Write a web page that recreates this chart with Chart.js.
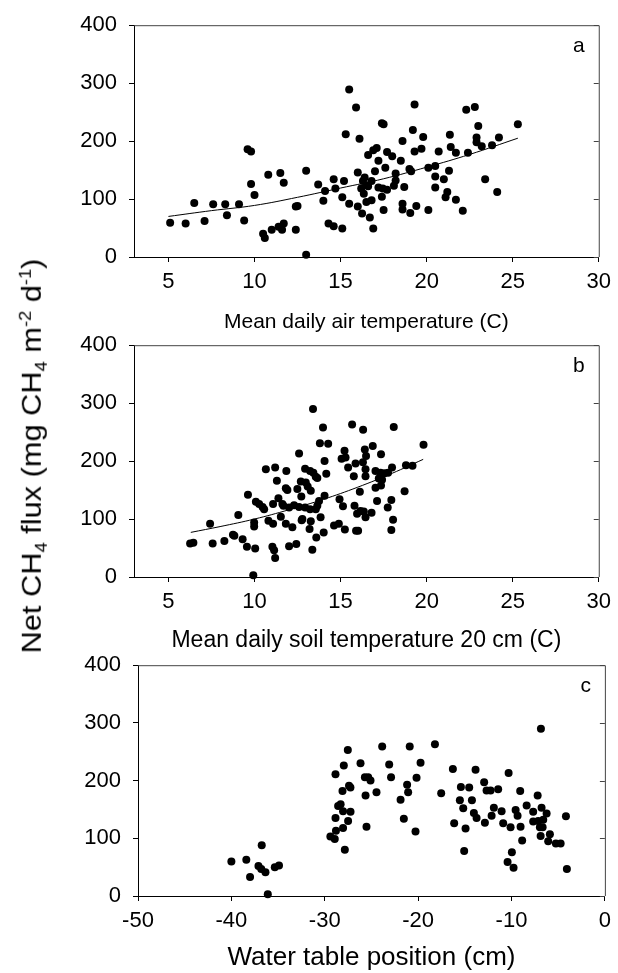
<!DOCTYPE html>
<html>
<head>
<meta charset="utf-8">
<script src="https://cdn.jsdelivr.net/npm/chart.js@4.4.0/dist/chart.umd.min.js"></script>
<style>
  body { margin: 0; background: #fff; width: 618px; height: 973px; position: relative; overflow: hidden;
         font-family: "Liberation Sans", Arial, sans-serif; }
  canvas { position: absolute; left: 0; }
  #ytitle { position: absolute; left: 34px; top: 456px; transform: translate(-50%, -50%) rotate(-90deg) scaleX(1.14);
            white-space: nowrap; font-size: 27px; color: #000; }
  #ytitle sub, #ytitle sup { font-size: 16px; }
</style>
</head>
<body>
<canvas id="chartA" width="618" height="336" style="top:0"></canvas>
<canvas id="chartB" width="618" height="334" style="top:320px"></canvas>
<canvas id="chartC" width="618" height="333" style="top:640px"></canvas>
<div id="ytitle">Net CH<sub>4</sub> flux (mg CH<sub>4</sub> m<sup>-2</sup> d<sup>-1</sup>)</div>
<script>
// axis ticks
const fluxTicks = [0, 100, 200, 300, 400];
const tempTicks = [5, 10, 15, 20, 25, 30];
const waterTicks = [-50, -40, -30, -20, -10, 0];

// panel a: mean daily air temperature (C) vs net CH4 flux
const airTemp = [5.1, 6.0, 6.5, 7.1, 7.6, 8.3, 8.4, 9.1, 9.4, 9.6, 9.8, 9.8, 10.0, 10.5, 10.6, 10.8, 11.0, 11.5, 11.7, 11.4,
  11.7, 11.6, 12.4, 12.5, 12.4, 13.0, 13.0, 13.7, 14.0, 14.1, 14.3, 14.6, 15.1, 14.6, 14.7, 15.2, 15.1, 15.5, 15.5, 15.9,
  15.3, 16.1, 16.0, 16.6, 16.4, 16.3, 16.5, 16.2, 16.6, 16.35, 16.5, 16.8, 17.4, 16.0, 16.25, 16.7, 16.9, 17.5, 17.4, 17.5,
  16.9, 17.1, 17.2, 17.7, 18.0, 18.5, 17.6, 18.2, 17.0, 16.8, 17.2, 17.45, 17.7, 18.1, 18.2, 18.7, 19.0, 19.1, 18.6, 18.6,
  18.6, 19.05, 19.4, 20.1, 22.1, 19.3, 22.3, 22.8, 23.0, 25.3, 19.2, 19.8, 21.35, 22.9, 22.9, 23.2, 23.8, 24.2, 21.4, 21.7,
  22.4, 20.7, 19.7, 19.3, 20.1, 20.5, 20.5, 21.0, 21.3, 23.4, 20.5, 21.2, 21.1, 21.7, 24.1];
const fluxA = [59, 58, 93, 62, 91, 91, 72, 91, 63, 186, 182, 126, 107, 40, 33, 142, 47, 145, 128, 52,
  58, 47, 87, 88, 47, 4, 149, 125, 97, 114, 58, 53, 49, 134, 118, 131, 103, 92, 289, 258,
  212, 204, 146, 176, 137, 131, 124, 118, 122, 109, 95, 98, 104, 87, 75, 68, 49, 81, 231, 229,
  184, 188, 166, 181, 174, 166, 154, 144, 148, 131, 120, 118, 116, 123, 132, 121, 152, 148, 200, 92,
  82, 76, 88, 81, 80, 263, 254, 259, 226, 229, 219, 207, 211, 206, 198, 191, 193, 206, 190, 180,
  180, 182, 187, 182, 154, 157, 139, 134, 149, 134, 120, 112, 103, 99, 112];
const trendAirX = [5, 7.5, 10, 12.5, 15, 17.5, 20, 22.5, 25.3];
const trendAirY = [70, 80, 89, 103, 119, 135, 155, 177, 205];

// panel b: mean daily soil temperature 20 cm (C) vs net CH4 flux
const soilTemp = [6.26, 6.45, 7.42, 7.57, 8.25, 8.75, 8.83, 9.06, 9.31, 9.56, 9.62, 9.98, 9.98, 10.04, 9.93, 10.08, 10.27, 10.47, 10.56, 10.66,
  11.2, 11.3, 11.85, 10.81, 11.08, 11.04, 11.14, 11.2, 11.08, 11.39, 11.53, 11.82, 11.91, 11.68, 12.01, 12.3, 12.59, 11.82, 12.2, 12.01,
  12.43, 12.69, 12.59, 12.49, 12.72, 12.74, 12.94, 13.23, 13.42, 12.98, 13.09, 13.27, 12.94, 13.23, 13.56, 13.27, 13.2, 13.36, 13.4, 13.59,
  13.65, 13.75, 13.84, 13.98, 13.8, 14.28, 14.07, 14.17, 14.02, 14.07, 14.62, 14.9, 15.25, 14.94, 15.14, 15.06, 15.29, 15.23, 15.44, 15.67,
  15.87, 15.77, 15.81, 15.96, 15.9, 16.02, 16.12, 16.31, 16.41, 16.48, 16.45, 16.45, 16.16, 16.45, 18.09, 16.87, 17.35, 16.3, 17.03, 17.32,
  17.55, 17.76, 17.99, 17.41, 17.35, 17.03, 17.22, 18.8, 19.18, 19.82, 18.72, 17.12, 17.95, 16.8, 16.35, 17.74, 18.05, 17.95, 13.56, 13.65,
  11.62, 12.78];
const fluxB = [58, 59, 92, 58, 62, 73, 71, 107, 65, 52, 142, 94, 87, 49, 3, 130, 126, 121, 117, 186,
  189, 166, 183, 97, 92, 52, 46, 33, 126, 136, 104, 153, 150, 123, 120, 124, 121, 92, 86, 53,
  57, 165, 213, 152, 139, 98, 187, 183, 180, 163, 156, 149, 120, 117, 117, 96, 83, 47, 290, 68,
  171, 131, 103, 258, 231, 230, 200, 178, 77, 140, 89, 92, 82, 134, 122, 204, 206, 218, 189, 263,
  196, 174, 123, 109, 80, 80, 147, 254, 220, 209, 186, 174, 114, 103, 259, 226, 212, 198, 183, 180,
  179, 180, 189, 168, 158, 154, 170, 193, 192, 228, 148, 131, 133, 111, 113, 120, 99, 81, 173, 123,
  126, 100];
const trendSoilX = [6.3, 8, 10, 12, 14, 16, 18, 19.8];
const trendSoilY = [77, 87, 100, 116, 134, 155, 179, 203];

// panel c: water table position (cm) vs net CH4 flux
const waterTable = [-40.0, -38.4, -38.0, -36.75, -37.1, -36.8, -36.35, -35.35, -34.9, -36.1, -27.53, -27.96, -28.85, -26.17, -25.7, -25.35, -25.1, -27.4, -27.25, -28.1,
  -25.63, -28.57, -28.3, -28.04, -27.24, -28.85, -27.5, -28.04, -25.53, -29.4, -28.93, -28.8, -27.85, -23.85, -20.9, -18.2, -23.1, -19.74, -22.9, -20.17,
  -24.46, -21.18, -21.07, -21.88, -21.53, -20.28, -17.53, -16.28, -13.85, -10.31, -15.42, -14.53, -12.93, -12.67, -12.24, -11.43, -15.53, -15.17, -14.24, -14.03,
  -13.74, -16.14, -14.92, -15.07, -12.85, -12.13, -11.89, -11.06, -10.89, -10.1, -9.56, -9.35, -9.07, -9.03, -8.86, -9.96, -10.42, -9.78, -8.38, -7.68,
  -6.78, -6.24, -7.2, -6.85, -7.68, -7.14, -6.6, -6.96, -6.67, -6.88, -5.89, -6.07, -5.25, -4.74, -4.17, -4.07];
const fluxC = [60, 63, 33, 88, 52, 47, 41, 50, 53, 3, 253, 226, 211, 230, 206, 206, 200, 191, 188, 182,
  174, 156, 159, 147, 146, 135, 130, 118, 120, 103, 99, 113, 80, 259, 259, 263, 228, 231, 206, 205,
  180, 193, 180, 167, 134, 112, 178, 220, 219, 213, 189, 188, 197, 183, 183, 185, 166, 152, 166, 144,
  135, 126, 117, 78, 127, 139, 153, 147, 126, 119, 149, 139, 182, 120, 96, 76, 59, 49, 157, 146,
  153, 143, 174, 290, 129, 130, 132, 119, 119, 104, 107, 95, 91, 91, 138, 47];

const pts = (xs, ys) => xs.map((x, i) => ({x: x, y: ys[i]}));

const tickFont = {family: "'Liberation Sans', Arial, sans-serif", size: 22};

// box frame, inward ticks on the right side, and the panel letter
const framePlugin = {
  id: 'frame',
  afterDatasetsDraw(chart, args, opts) {
    const {ctx, chartArea: a} = chart;
    const y = chart.scales.y;
    ctx.save();
    ctx.strokeStyle = '#444';
    ctx.lineWidth = 1;
    ctx.beginPath();
    ctx.moveTo(a.left, a.top + 0.5);
    ctx.lineTo(a.right + 0.5, a.top + 0.5);
    ctx.lineTo(a.right + 0.5, a.bottom);
    fluxTicks.forEach(v => {
      const py = Math.round(y.getPixelForValue(v)) + 0.5;
      ctx.moveTo(a.right, py);
      ctx.lineTo(a.right - 5, py);
    });
    ctx.stroke();
    ctx.fillStyle = '#000';
    ctx.font = "21px 'Liberation Sans', Arial, sans-serif";
    ctx.textAlign = 'right';
    ctx.textBaseline = 'alphabetic';
    ctx.fillText(opts.letter, a.right - 14, a.top + 27);
    ctx.restore();
  }
};

function makeChart(id, cfg) {
  return new Chart(document.getElementById(id), {
    type: 'scatter',
    data: {
      datasets: [
        {
          data: cfg.points,
          pointRadius: 4,
          pointHoverRadius: 4,
          pointBackgroundColor: '#000',
          pointBorderWidth: 0,
          showLine: false,
          clip: false,
        },
        ...(cfg.trend ? [{
          data: cfg.trend,
          showLine: true,
          pointRadius: 0,
          borderColor: '#000',
          borderWidth: 1,
          tension: 0.4,
          clip: false,
        }] : []),
      ],
    },
    options: {
      responsive: false,
      animation: false,
      devicePixelRatio: 1,
      layout: {padding: {top: cfg.padTop, right: cfg.padRight, left: 0, bottom: 0}},
      plugins: {
        legend: {display: false},
        tooltip: {enabled: false},
        frame: {letter: cfg.letter},
      },
      scales: {
        x: {
          type: 'linear',
          min: cfg.xMin,
          max: cfg.xMax,
          afterBuildTicks: s => { s.ticks = cfg.xTicks.map(v => ({value: v})); },
          afterFit: s => { s.height = cfg.xHeight; },
          grid: {drawOnChartArea: false, tickLength: 5, color: '#000'},
          border: {color: '#000', width: 1},
          ticks: {font: tickFont, color: '#000', padding: 7, maxRotation: 0, autoSkip: false},
          title: {
            display: true,
            text: cfg.xTitle,
            color: '#000',
            font: {family: "'Liberation Sans', Arial, sans-serif", size: cfg.titleSize},
            padding: {top: 0, bottom: cfg.titlePad},
          },
        },
        y: {
          min: 0,
          max: 400,
          afterBuildTicks: s => { s.ticks = fluxTicks.map(v => ({value: v})); },
          afterFit: s => { s.width = cfg.yWidth; },
          grid: {drawOnChartArea: false, tickLength: 5, color: '#000'},
          border: {color: '#000', width: 1},
          ticks: {font: tickFont, color: '#000', padding: 12},
        },
      },
    },
    plugins: [framePlugin],
  });
}

makeChart('chartA', {
  points: pts(airTemp, fluxA),
  trend: pts(trendAirX, trendAirY),
  letter: 'a',
  xMin: 3, xMax: 30, xTicks: tempTicks,
  xTitle: 'Mean daily air temperature (C)',
  titleSize: 21, titlePad: 1,
  padTop: 24, padRight: 17, yWidth: 134, xHeight: 79,
});

makeChart('chartB', {
  points: pts(soilTemp, fluxB),
  trend: pts(trendSoilX, trendSoilY),
  letter: 'b',
  xMin: 3, xMax: 30, xTicks: tempTicks,
  xTitle: 'Mean daily soil temperature 20 cm (C)',
  titleSize: 23, titlePad: 0,
  padTop: 23, padRight: 17, yWidth: 134, xHeight: 77,
});

makeChart('chartC', {
  points: pts(waterTable, fluxC),
  letter: 'c',
  xMin: -50, xMax: 0, xTicks: waterTicks,
  xTitle: 'Water table position (cm)',
  titleSize: 26, titlePad: 0,
  padTop: 22, padRight: 13, yWidth: 138, xHeight: 77,
});
</script>
</body>
</html>
